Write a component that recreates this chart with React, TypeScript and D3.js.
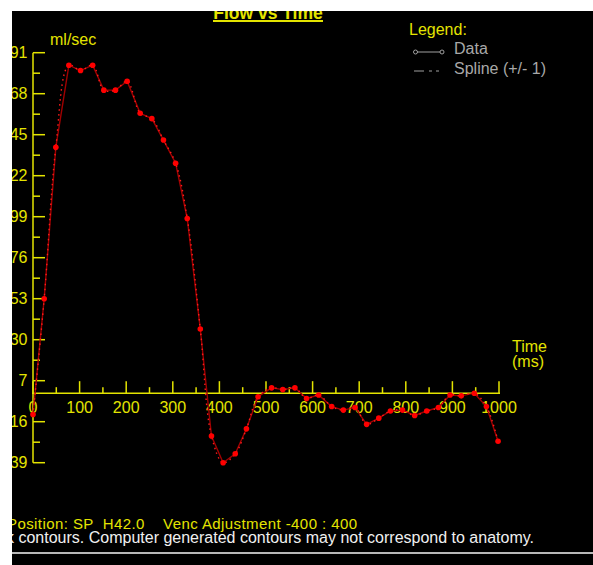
import React from 'react'
import * as d3 from 'd3'

// time (ms) and flow (ml/sec)
const timeMs = [0, 24, 49, 77, 102, 128, 152, 177, 202, 230, 255, 280, 306, 331, 359, 383, 408, 434, 458, 483,
  512, 536, 562, 587, 613, 641, 666, 691, 716, 742, 767, 793, 819, 845, 870, 895, 919, 947, 973, 998]
const flowMlSec = [-12, 53, 138, 184, 181, 184, 170, 170, 175, 157, 154, 142, 129, 98, 36, -24, -39, -34, -20, -2,
  3, 2, 3, -3, -1, -7.5, -9.5, -8, -17.5, -14, -10, -9.5, -12.5, -10, -8, -1, -1.5, 0, -7.5, -27]

const yTicks = [-39, -16, 7, 30, 53, 76, 99, 122, 145, 168, 191]
const xTicks = [0, 100, 200, 300, 400, 500, 600, 700, 800, 900, 1000]

const W = 593
const H = 565
const YEL = '#e4e400'
const FONT = '"Liberation Sans", Arial, sans-serif'

export default function App() {
  const x = d3.scaleLinear().domain([0, 1000]).range([33, 499])
  const y = d3.scaleLinear().domain([-39, 191]).range([462.7, 52.7])
  const y0 = y(0)

  const pts: [number, number][] = timeMs.map((t, i) => [t, flowMlSec[i]])
  const dataLine = d3.line<[number, number]>().x(d => x(d[0])).y(d => y(d[1]))
  const splineLine = d3.line<[number, number]>().x(d => x(d[0])).y(d => y(d[1])).curve(d3.curveCatmullRom.alpha(0.5))

  // half-step ticks, none next to the zero line
  const yMinor = yTicks.slice(0, -1).map(v => v + 11.5).filter(v => Math.abs(v) > 10)
  const xMinor = xTicks.slice(0, -1).map(v => v + 50)

  return (
    <div style={{ position: 'absolute', left: 0, top: 0 }}>
      <svg width={W} height={H} style={{ display: 'block', fontFamily: FONT }}>
        <defs>
          <clipPath id="panel">
            <rect x={12} y={11} width={W - 12} height={H - 11} />
          </clipPath>
        </defs>
        <rect width={W} height={H} fill="#fff" />
        <g clipPath="url(#panel)">
          <rect x={12} y={11} width={W - 12} height={H - 11} fill="#000" />

          {/* title */}
          <text x={268} y={18.5} textAnchor="middle" fill={YEL} fontSize={17.5} fontWeight="bold">Flow vs Time</text>
          <rect x={213} y={20} width={110} height={2} fill={YEL} />

          {/* y axis */}
          <line x1={33} x2={33} y1={y(191)} y2={y(-39)} stroke={YEL} strokeWidth={1.5} />
          {yTicks.map(v => (
            <g key={'yt' + v}>
              <line x1={33} x2={45} y1={y(v)} y2={y(v)} stroke={YEL} strokeWidth={1.5} />
              <text x={27.5} y={y(v)} dy="0.36em" textAnchor="end" fill={YEL} fontSize={16}>{v < 0 ? -v : v}</text>
            </g>
          ))}
          {yMinor.map(v => (
            <line key={'ym' + v} x1={33} x2={40} y1={y(v)} y2={y(v)} stroke={YEL} strokeWidth={1.5} />
          ))}
          <text x={50} y={45} fill={YEL} fontSize={16}>ml/sec</text>

          {/* x axis */}
          <line x1={32} x2={x(1000) + 1} y1={y0} y2={y0} stroke={YEL} strokeWidth={1.5} />
          {xTicks.map(v => (
            <g key={'xt' + v}>
              <line x1={x(v)} x2={x(v)} y1={y0} y2={y0 - 12} stroke={YEL} strokeWidth={1.5} />
              <text x={x(v)} y={y0 + 19.5} textAnchor="middle" fill={YEL} fontSize={16}>{v}</text>
            </g>
          ))}
          {xMinor.map(v => (
            <line key={'xm' + v} x1={x(v)} x2={x(v)} y1={y0} y2={y0 - 6} stroke={YEL} strokeWidth={1.5} />
          ))}
          <text x={512} y={352} fill={YEL} fontSize={16}>Time</text>
          <text x={512} y={367} fill={YEL} fontSize={16}>(ms)</text>

          {/* series */}
          <path d={dataLine(pts) || ''} fill="none" stroke="#a00000" strokeWidth={1.4} />
          <path d={splineLine(pts) || ''} fill="none" stroke="#ff1a1a" strokeWidth={1.4} strokeDasharray="1.5,3.5" />
          {pts.map((d, i) => (
            <circle key={'p' + i} cx={x(d[0])} cy={y(d[1])} r={2.8} fill="#ff0000" />
          ))}

          {/* legend */}
          <text x={409} y={34.5} fill={YEL} fontSize={16}>Legend:</text>
          <line x1={417} x2={440} y1={52} y2={52} stroke="#a0a0a0" strokeWidth={1} />
          <circle cx={415.5} cy={52} r={2} fill="none" stroke="#a0a0a0" strokeWidth={1} />
          <circle cx={442} cy={52} r={2} fill="none" stroke="#a0a0a0" strokeWidth={1} />
          <text x={454} y={54} fill="#a8a8a8" fontSize={16}>Data</text>
          <line x1={414} x2={443} y1={71} y2={71} stroke="#a0a0a0" strokeWidth={1} strokeDasharray="10,5,3,4,3,10" />
          <text x={454} y={73.5} fill="#a8a8a8" fontSize={16}>Spline (+/- 1)</text>

          {/* footer */}
          <text x={7} y={528.5} fill={YEL} fontSize={15} textLength={350} lengthAdjust="spacing" xmlSpace="preserve">Position: SP  H42.0    Venc Adjustment -400 : 400</text>
          <text x={534} y={543} textAnchor="end" fill="#f0f0f0" fontSize={16}>Please check contours. Computer generated contours may not correspond to anatomy.</text>
          <rect x={12} y={552} width={W - 12} height={2} fill="#b8b8b8" />
        </g>
      </svg>
    </div>
  )
}
